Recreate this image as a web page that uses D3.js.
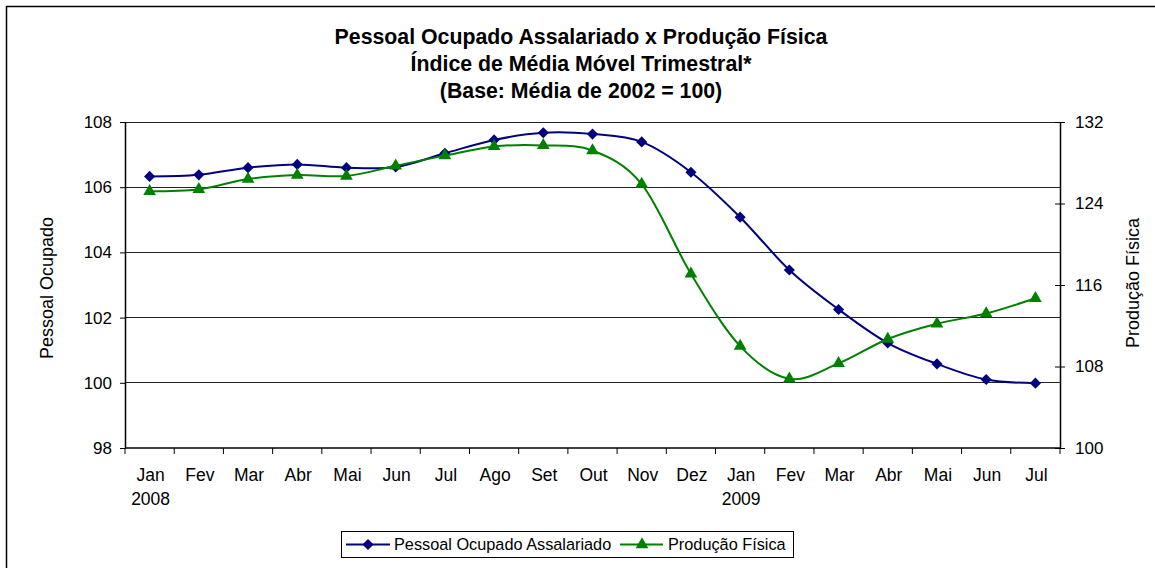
<!DOCTYPE html>
<html>
<head>
<meta charset="utf-8">
<script src="https://cdn.jsdelivr.net/npm/d3@7/dist/d3.min.js"></script>
<style>
  body { margin: 0; background: #fff; }
  svg text { font-family: "Liberation Sans", Arial, sans-serif; fill: #000; }
</style>
</head>
<body>
<script>
// dados
const months = ["Jan","Fev","Mar","Abr","Mai","Jun","Jul","Ago","Set","Out","Nov","Dez",
                "Jan","Fev","Mar","Abr","Mai","Jun","Jul"];
const yearLabels = ["2008","","","","","","","","","","","","2009","","","","","",""];
const pessoal = [106.33,106.38,106.6,106.7,106.6,106.62,107.04,107.45,107.67,107.63,107.39,106.46,
                 105.08,103.46,102.25,101.22,100.58,100.1,99.99];
const producao = [125.2,125.4,126.4,126.8,126.7,127.7,128.7,129.6,129.7,129.2,125.9,117.1,
                  110.0,106.8,108.3,110.7,112.2,113.2,114.7];
const leftTicks = [98,100,102,104,106,108];
const rightTicks = [100,108,116,124,132];

const W = 1155, H = 568;
const pL = 125, pR = 1060, pT = 122, pB = 448;

const svg = d3.select("body").append("svg").attr("width", W).attr("height", H);

// moldura
svg.append("rect").attr("x", 6.5).attr("y", 6.5).attr("width", 1200).attr("height", 700)
  .attr("fill", "none").attr("stroke", "#000").attr("stroke-width", 1.5);

// título
const titles = ["Pessoal Ocupado Assalariado x Produção Física",
                "Índice de Média Móvel Trimestral*",
                "(Base: Média de 2002 = 100)"];
svg.selectAll(".title").data(titles).enter().append("text")
  .attr("class", "title")
  .attr("x", 581).attr("y", (d, i) => 44 + i * 27)
  .attr("text-anchor", "middle")
  .style("font-size", "21.3px").style("font-weight", "bold")
  .text(d => d);

const x = d3.scaleBand().domain(d3.range(months.length)).range([pL, pR]);
const yL = d3.scaleLinear().domain([98, 108]).range([pB, pT]);
const yR = d3.scaleLinear().domain([100, 132]).range([pB, pT]);

// grade
svg.append("g").selectAll("line").data(leftTicks.slice(1)).enter().append("line")
  .attr("x1", pL).attr("x2", pR)
  .attr("y1", d => yL(d)).attr("y2", d => yL(d))
  .attr("stroke", "#222").attr("stroke-width", 1).attr("shape-rendering", "crispEdges");

// eixo esquerdo
const gL = svg.append("g").attr("transform", `translate(${pL},0)`)
  .call(d3.axisLeft(yL).tickValues(leftTicks).tickSize(5).tickPadding(8).tickSizeOuter(0));
gL.selectAll("text").style("font-size", "17px");

// eixo direito
const gR = svg.append("g").attr("transform", `translate(${pR},0)`)
  .call(d3.axisRight(yR).tickValues(rightTicks).tickSize(5).tickPadding(10).tickSizeOuter(0));
gR.selectAll(".tick line").attr("x1", -5);
gR.selectAll("text").style("font-size", "17px");

[gL, gR].forEach(g => {
  g.select(".domain").attr("stroke", "#000").attr("stroke-width", 1.5);
  g.selectAll(".tick line").attr("stroke", "#000");
});

// eixo x
svg.append("line").attr("x1", pL).attr("x2", pR).attr("y1", pB).attr("y2", pB)
  .attr("stroke", "#000").attr("stroke-width", 1.5);
svg.append("g").selectAll("line").data(d3.range(months.length + 1)).enter().append("line")
  .attr("x1", i => pL + i * x.step()).attr("x2", i => pL + i * x.step())
  .attr("y1", pB).attr("y2", pB + 6)
  .attr("stroke", "#000");
svg.append("g").selectAll("text").data(months).enter().append("text")
  .attr("x", (d, i) => x(i) + x.bandwidth() / 2 + 1).attr("y", 481)
  .attr("text-anchor", "middle").style("font-size", "17.5px").text(d => d);
svg.append("g").selectAll("text").data(yearLabels).enter().append("text")
  .attr("x", (d, i) => x(i) + x.bandwidth() / 2 + 1).attr("y", 505)
  .attr("text-anchor", "middle").style("font-size", "17.5px").text(d => d);

// títulos dos eixos
svg.append("text").attr("transform", "translate(53,288) rotate(-90)")
  .attr("text-anchor", "middle").style("font-size", "18px").text("Pessoal Ocupado");
svg.append("text").attr("transform", "translate(1139,283) rotate(-90)")
  .attr("text-anchor", "middle").style("font-size", "18px").text("Produção Física");

// séries
const cx = i => x(i) + x.bandwidth() / 2;
const lineL = d3.line().x((d, i) => cx(i)).y(d => yL(d)).curve(d3.curveCardinal.tension(0));
const lineR = d3.line().x((d, i) => cx(i)).y(d => yR(d)).curve(d3.curveCardinal.tension(0));

const blue = "#000080", green = "#008000";
const diamond = d3.symbol().type(d3.symbolSquare).size(62);
const triangle = d3.symbol().type(d3.symbolTriangle).size(70);

svg.append("path").datum(pessoal).attr("d", lineL)
  .attr("fill", "none").attr("stroke", blue).attr("stroke-width", 2);
svg.append("g").selectAll("path").data(pessoal).enter().append("path")
  .attr("d", diamond)
  .attr("transform", (d, i) => `translate(${cx(i)},${yL(d)}) rotate(45)`)
  .attr("fill", blue);

svg.append("path").datum(producao).attr("d", lineR)
  .attr("fill", "none").attr("stroke", green).attr("stroke-width", 2);
svg.append("g").selectAll("path").data(producao).enter().append("path")
  .attr("d", triangle)
  .attr("transform", (d, i) => `translate(${cx(i)},${yR(d)})`)
  .attr("fill", green);

// legenda
const leg = svg.append("g");
leg.append("rect").attr("x", 341.5).attr("y", 531.5).attr("width", 452).attr("height", 26)
  .attr("fill", "#fff").attr("stroke", "#000");
leg.append("line").attr("x1", 346).attr("x2", 390).attr("y1", 544.5).attr("y2", 544.5)
  .attr("stroke", blue).attr("stroke-width", 2);
leg.append("path").attr("d", diamond).attr("transform", "translate(368,544.5) rotate(45)").attr("fill", blue);
leg.append("text").attr("x", 394).attr("y", 550).style("font-size", "16.3px").text("Pessoal Ocupado Assalariado");
leg.append("line").attr("x1", 620).attr("x2", 663).attr("y1", 544.5).attr("y2", 544.5)
  .attr("stroke", green).attr("stroke-width", 2);
leg.append("path").attr("d", triangle).attr("transform", "translate(642,544.5)").attr("fill", green);
leg.append("text").attr("x", 668).attr("y", 550).style("font-size", "16.3px").text("Produção Física");
</script>
</body>
</html>
